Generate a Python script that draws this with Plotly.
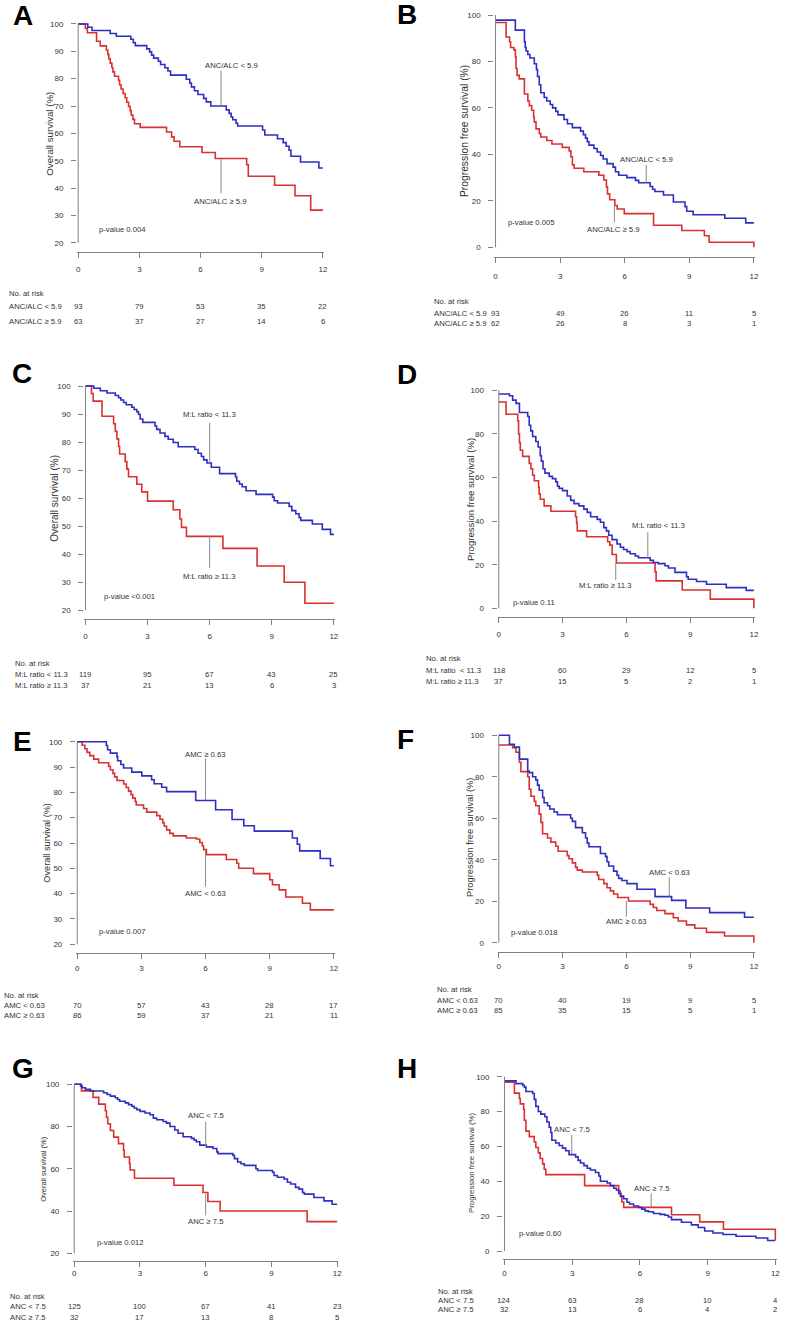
import plotly.graph_objects as go

W, H = 787, 1325
MONTHS = [0, 3, 6, 9, 12]
BLUE = "#2e2ec0"
RED = "#d93030"
AXC = "#808080"
TXT = "#333333"
FONT = "Liberation Sans Narrow, Liberation Sans, Arial, sans-serif"
FS = 7.7

# ---------------- data (months, survival %) ----------------
# A: overall survival by ANC/ALC
a_low_t = [0, 0.47, 0.68, 1.57, 1.87, 2.58, 2.7, 2.8, 3.36, 3.5, 3.6, 3.7, 3.93, 4.04, 4.25, 4.4, 4.53, 5.3, 5.47, 5.55,
           5.7, 5.87, 6.15, 6.28, 6.5, 7.26, 7.4, 7.5, 7.58, 7.74, 7.82, 9.04, 9.15, 9.77, 10.05, 10.2, 10.34, 10.43, 10.9, 11.8, 12]
a_low_s = [100, 98.8, 97.6, 96.5, 95.5, 94.4, 93.2, 92.1, 90.9, 89.8, 88.6, 87.5, 86.4, 85.2, 84.0, 82.8, 81.3, 79.8, 78.4, 77.0,
           75.6, 74.2, 72.8, 71.5, 70.0, 68.6, 67.3, 66.0, 65.0, 63.7, 62.7, 61.2, 59.4, 58.0, 56.6, 55.3, 53.8, 51.6, 49.5, 47.3, 47.3]
a_high_t = [0, 0.35, 0.45, 0.9, 1.08, 1.38, 1.45, 1.5, 1.57, 1.65, 1.7, 1.78, 1.98, 2.03, 2.1, 2.2, 2.3, 2.38, 2.47, 2.55,
            2.6, 2.68, 2.76, 3.04, 4.33, 4.58, 4.7, 4.98, 6.07, 6.72, 8.26, 8.34, 9.63, 10.63, 11.4, 12]
a_high_s = [100, 98.4, 96.8, 93.7, 92.0, 90.5, 88.9, 87.3, 85.7, 84.1, 82.5, 80.9, 79.4, 77.8, 76.2, 74.6, 73.0, 71.4, 69.8, 68.3,
            66.7, 65.1, 63.5, 62.2, 60.5, 58.7, 57.1, 55.1, 53.0, 50.8, 48.5, 44.3, 41.0, 37.2, 31.9, 31.9]

# B: progression free survival by ANC/ALC
b_low_t = [0, 0.92, 1.34, 1.38, 1.42, 1.5, 1.6, 1.8, 1.9, 1.95, 2.03, 2.1, 2.26, 2.38, 2.54, 2.65, 2.8, 2.9, 3.18, 3.34,
           3.57, 3.95, 4.08, 4.18, 4.26, 4.34, 4.57, 4.72, 4.88, 5.0, 5.18, 5.46, 5.57, 5.72, 6.1, 6.5, 6.65, 7.18, 7.3, 7.4,
           7.8, 8.26, 8.8, 8.88, 9.18, 10.65, 11.62, 12]
b_low_s = [97.8, 93.5, 88.5, 86.0, 84.5, 83.0, 81.5, 79.0, 76.5, 73.5, 70.0, 66.5, 64.5, 63.0, 61.5, 60.0, 58.5, 57.0, 55.0, 53.2,
           51.5, 50.0, 48.5, 47.0, 45.5, 44.0, 42.5, 41.0, 39.5, 38.0, 36.0, 34.5, 32.5, 31.0, 30.0, 28.8, 27.8, 26.2, 25.0, 24.0,
           22.5, 19.5, 17.5, 15.5, 14.0, 12.5, 10.5, 10.5]
b_high_t = [0, 0.49, 0.65, 0.7, 0.85, 0.92, 0.95, 1.0, 1.1, 1.34, 1.5, 1.57, 1.68, 1.77, 1.8, 1.88, 2.03, 2.1, 2.38, 2.62,
            3.1, 3.42, 3.5, 3.57, 3.65, 4.1, 4.8, 5.03, 5.15, 5.2, 5.3, 5.54, 5.65, 5.98, 7.34, 8.65, 9.7, 9.92, 12]
b_high_s = [96.8, 90.5, 88.5, 86.0, 85.0, 82.0, 77.0, 74.0, 72.5, 66.0, 63.0, 61.0, 59.0, 56.0, 54.0, 51.0, 49.0, 47.5, 46.0, 44.5,
            43.0, 41.5, 39.0, 35.5, 34.0, 32.5, 31.0, 29.0, 26.0, 23.0, 20.5, 18.0, 16.5, 14.5, 9.5, 7.2, 5.0, 2.2, 0]

# C: overall survival by M:L ratio
c_low_t = [0, 0.4, 0.72, 1.04, 1.44, 1.6, 1.71, 1.84, 1.97, 2.24, 2.35, 2.48, 2.56, 2.64, 2.77, 3.36, 3.44, 3.6, 3.84, 4.0,
           4.24, 4.48, 5.28, 5.44, 5.6, 5.71, 5.87, 6.08, 6.48, 7.25, 7.31, 7.44, 7.57, 7.76, 8.24, 9.04, 9.12, 9.28, 9.84, 9.97,
           10.16, 10.32, 10.4, 10.96, 11.44, 11.84, 12]
c_low_s = [100, 99.2, 98.3, 97.5, 96.6, 95.8, 95.0, 94.1, 93.3, 92.4, 91.6, 90.8, 89.9, 88.2, 87.0, 85.7, 84.5, 83.2, 82.0, 81.0,
           79.8, 78.3, 77.3, 76.0, 74.8, 73.6, 72.5, 71.0, 68.7, 67.5, 66.0, 65.0, 64.0, 62.6, 61.3, 60.3, 59.0, 58.2, 57.0, 55.5,
           54.4, 53.0, 52.0, 50.7, 48.8, 47.0, 47.0]
c_high_t = [0, 0.29, 0.37, 0.8, 1.36, 1.44, 1.52, 1.6, 1.65, 1.92, 2.0, 2.08, 2.48, 2.72, 3.0, 4.24, 4.56, 4.64, 4.88, 6.64,
            8.29, 9.6, 10.6, 12]
c_high_s = [100, 97.3, 94.6, 89.2, 86.5, 83.8, 81.1, 78.4, 75.7, 73.0, 70.3, 67.6, 64.9, 62.2, 58.9, 55.8, 52.5, 49.5, 46.3, 42.0,
            35.7, 29.9, 22.4, 22.4]

# D: progression free survival by M:L ratio
d_low_t = [0, 0.5, 0.65, 0.81, 0.97, 1.36, 1.43, 1.5, 1.59, 1.74, 1.85, 1.95, 2.0, 2.08, 2.17, 2.37, 2.52, 2.68, 2.76, 2.84,
           3.0, 3.22, 3.38, 3.54, 3.77, 4.0, 4.16, 4.32, 4.63, 4.78, 4.94, 5.06, 5.17, 5.33, 5.56, 5.72, 5.87, 6.03, 6.18, 6.42,
           6.57, 7.12, 7.27, 7.5, 7.82, 7.98, 8.29, 8.83, 8.91, 9.3, 9.77, 10.7, 11.64, 12]
d_low_s = [98.3, 97.5, 95.5, 94.0, 89.8, 88.0, 84.0, 81.4, 78.8, 76.5, 74.0, 70.0, 67.5, 64.0, 62.0, 60.5, 59.5, 58.0, 56.0, 55.0,
           54.0, 51.5, 49.5, 48.0, 47.0, 45.5, 44.0, 42.0, 40.8, 39.5, 37.0, 35.5, 33.5, 31.5, 29.5, 28.0, 27.0, 26.0, 25.0, 24.0,
           23.2, 22.0, 21.0, 20.5, 19.5, 18.5, 16.5, 14.5, 13.3, 12.3, 11.0, 9.5, 8.2, 8.2]
d_high_t = [0, 0.34, 0.89, 0.93, 0.97, 1.01, 1.12, 1.43, 1.51, 1.59, 1.67, 1.87, 1.9, 1.95, 2.13, 2.45, 3.61, 3.66, 3.69, 4.13,
            5.12, 5.22, 5.33, 5.53, 7.35, 7.4, 8.63, 9.95, 12]
d_high_s = [94.6, 89.0, 86.0, 80.0, 76.0, 72.5, 69.7, 66.5, 64.0, 61.0, 58.5, 55.5, 52.5, 50.0, 47.0, 44.5, 42.0, 39.0, 35.5, 32.8,
            30.5, 29.0, 24.7, 20.8, 16.8, 12.6, 8.4, 4.2, 0]

# E: overall survival by AMC
e_high_t = [0, 1.36, 1.42, 1.55, 1.86, 1.89, 2.04, 2.17, 2.55, 3.02, 3.48, 3.6, 3.95, 4.18, 5.54, 6.47, 7.24, 7.79, 8.28, 10.06,
            10.29, 10.4, 11.36, 11.84, 12]
e_high_s = [100, 98.5, 96.8, 95.5, 94.0, 92.5, 91.0, 89.6, 88.0, 86.5, 85.0, 83.4, 82.0, 80.3, 76.8, 73.1, 69.3, 66.8, 64.7, 62.0,
            59.5, 56.9, 53.9, 51.0, 51.0]
e_low_t = [0, 0.23, 0.36, 0.46, 0.59, 0.77, 1.0, 1.47, 1.55, 1.67, 1.75, 1.86, 2.17, 2.29, 2.4, 2.52, 2.6, 2.71, 2.76, 3.1,
           3.25, 3.72, 3.87, 4.0, 4.07, 4.18, 4.33, 4.49, 5.1, 5.57, 5.73, 5.85, 5.91, 6.04, 6.97, 7.46, 7.55, 8.24, 9.0, 9.13,
           9.44, 9.75, 10.53, 10.9, 12]
e_low_s = [100, 98.6, 97.2, 95.8, 94.5, 93.1, 91.7, 90.3, 88.9, 87.5, 86.1, 84.7, 83.3, 81.9, 80.5, 79.1, 77.7, 76.4, 75.0, 73.6,
           72.2, 70.8, 69.4, 68.0, 66.6, 65.2, 63.8, 62.8, 62.0, 61.6, 60.2, 58.8, 57.4, 55.4, 53.5, 52.0, 50.0, 47.9, 45.5, 43.5,
           41.5, 38.7, 36.2, 33.6, 33.6]

# F: progression free survival by AMC
f_low_t = [0, 0.5, 0.73, 0.97, 1.36, 1.43, 1.59, 1.74, 1.82, 1.9, 2.06, 2.13, 2.29, 2.4, 2.6, 2.76, 3.38, 3.46, 3.61, 3.93,
           4.08, 4.16, 4.24, 4.78, 5.02, 5.09, 5.17, 5.4, 5.56, 5.64, 5.79, 6.03, 6.5, 7.35, 8.13, 8.8, 9.92, 11.56, 12]
f_low_s = [100, 95.7, 94.3, 88.5, 82.8, 82.0, 80.0, 78.5, 76.0, 73.5, 70.0, 67.5, 66.0, 64.5, 63.0, 61.7, 60.0, 58.5, 55.5, 53.0,
           50.5, 48.0, 46.3, 43.0, 41.5, 39.0, 37.0, 34.5, 32.5, 31.0, 30.0, 28.5, 25.8, 22.2, 20.4, 16.7, 14.5, 12.3, 12.3]
f_high_t = [0, 0.65, 0.81, 0.97, 1.04, 1.36, 1.43, 1.51, 1.67, 1.74, 1.9, 1.98, 2.06, 2.29, 2.45, 2.68, 2.79, 3.22, 3.3, 3.46,
            3.61, 3.69, 3.93, 4.63, 4.7, 4.94, 5.09, 5.25, 5.4, 5.59, 6.1, 7.12, 7.27, 7.43, 7.82, 8.21, 8.44, 8.83, 9.22, 9.77,
            10.62, 12]
f_high_s = [95.3, 94.0, 91.8, 87.0, 82.5, 80.0, 74.0, 70.6, 68.2, 66.0, 62.0, 58.0, 52.5, 50.5, 48.5, 46.5, 44.1, 42.0, 40.5, 38.5,
            36.3, 35.0, 34.1, 32.5, 30.5, 28.5, 26.5, 25.0, 23.5, 21.8, 20.1, 18.5, 17.0, 15.5, 14.0, 12.0, 10.5, 8.6, 7.0, 5.0,
            3.2, 0]

# G: overall survival by ANC
g_low_t = [0, 0.29, 0.36, 0.51, 0.74, 1.34, 1.5, 1.65, 1.87, 1.98, 2.07, 2.33, 2.48, 2.63, 2.73, 2.85, 3.0, 3.23, 3.46, 3.61,
           3.76, 4.06, 4.21, 4.37, 4.59, 4.74, 4.97, 5.35, 5.47, 5.57, 5.73, 6.03, 6.33, 6.51, 6.56, 7.24, 7.31, 7.46, 7.61, 7.76,
           8.29, 8.37, 9.05, 9.12, 9.27, 9.58, 9.73, 9.88, 10.1, 10.26, 10.42, 10.5, 10.94, 11.4, 11.77, 12]
g_low_s = [100, 99.2, 98.4, 97.6, 96.8, 96.0, 95.2, 94.4, 93.6, 92.8, 92.0, 91.2, 90.4, 89.6, 88.8, 88.0, 87.2, 86.4, 85.6, 84.0,
           83.2, 82.4, 81.6, 80.0, 78.4, 76.8, 75.2, 74.4, 73.6, 72.8, 71.2, 70.4, 69.6, 68.0, 67.2, 66.4, 64.8, 63.2, 62.4, 61.6,
           60.0, 59.2, 58.4, 56.8, 56.0, 55.2, 53.6, 52.8, 51.2, 50.4, 48.8, 48.0, 46.4, 44.8, 43.2, 43.2]
g_high_t = [0, 0.33, 0.86, 1.12, 1.42, 1.47, 1.53, 1.65, 1.8, 2.02, 2.25, 2.28, 2.52, 2.55, 2.75, 4.55, 5.88, 6.1, 6.66, 10.63, 12]
g_high_s = [100, 96.9, 93.8, 90.6, 87.5, 84.4, 81.3, 78.1, 75.0, 71.9, 68.8, 65.6, 62.5, 59.4, 55.5, 52.2, 48.8, 44.5, 40.0, 35.0, 35.0]

# H: progression free survival by ANC
h_low_t = [0, 0.51, 0.81, 0.88, 0.95, 1.25, 1.32, 1.39, 1.5, 1.61, 1.79, 1.88, 1.98, 2.05, 2.1, 2.27, 2.42, 2.57, 2.71, 2.86,
           3.15, 3.26, 3.37, 3.52, 3.67, 3.81, 4.03, 4.18, 4.25, 4.55, 4.69, 4.84, 4.96, 5.06, 5.16, 5.28, 5.43, 5.54, 5.72, 5.94,
           6.08, 6.23, 6.38, 6.6, 6.89, 7.11, 7.26, 7.4, 7.84, 8.28, 8.58, 8.87, 9.24, 9.68, 10.26, 11.14, 11.66, 12]
h_low_s = [97.6, 96.0, 95.0, 94.0, 91.5, 90.4, 87.0, 83.0, 80.0, 78.5, 77.0, 74.0, 71.0, 68.0, 63.5, 62.0, 60.5, 59.0, 57.5, 55.3,
           54.0, 52.0, 50.5, 49.0, 47.5, 46.5, 45.0, 43.0, 40.0, 39.0, 37.5, 36.0, 35.0, 33.0, 31.5, 30.0, 28.0, 27.0, 25.8, 25.0,
           24.0, 23.0, 22.5, 21.5, 21.0, 20.5, 19.5, 18.0, 16.5, 15.0, 13.5, 11.5, 10.3, 9.5, 8.5, 7.5, 6.0, 6.0]
h_high_t = [0, 0.44, 0.66, 0.7, 0.85, 0.88, 0.95, 1.1, 1.32, 1.39, 1.5, 1.58, 1.69, 1.76, 1.83, 3.55, 5.06, 5.13, 5.2, 5.28,
            7.4, 8.65, 9.7, 12]
h_high_s = [96.9, 90.6, 87.5, 84.4, 81.3, 75.0, 68.8, 65.6, 62.5, 59.4, 56.3, 53.1, 50.0, 46.9, 43.8, 37.5, 34.4, 31.3, 28.1, 25.0,
            20.8, 16.7, 12.5, 6.2]

# risk tables
a_risk_labels = ["ANC/ALC < 5.9", "ANC/ALC ≥ 5.9"]
a_risk = [[93, 79, 53, 35, 22], [63, 37, 27, 14, 6]]
b_risk_labels = ["ANC/ALC < 5.9", "ANC/ALC ≥ 5.9"]
b_risk = [[93, 49, 26, 11, 5], [62, 26, 8, 3, 1]]
c_risk_labels = ["M:L ratio < 11.3", "M:L ratio ≥ 11.3"]
c_risk = [[119, 95, 67, 43, 25], [37, 21, 13, 6, 3]]
d_risk_labels = ["M:L ratio\u00a0 < 11.3", "M:L ratio ≥ 11.3"]
d_risk = [[118, 60, 29, 12, 5], [37, 15, 5, 2, 1]]
e_risk_labels = ["AMC < 0.63", "AMC ≥ 0.63"]
e_risk = [[70, 57, 43, 28, 17], [86, 59, 37, 21, 11]]
f_risk_labels = ["AMC < 0.63", "AMC ≥ 0.63"]
f_risk = [[70, 40, 19, 9, 5], [85, 35, 15, 5, 1]]
g_risk_labels = ["ANC < 7.5", "ANC ≥ 7.5"]
g_risk = [[125, 100, 67, 41, 23], [32, 17, 13, 8, 5]]
h_risk_labels = ["ANC < 7.5", "ANC ≥ 7.5"]
h_risk = [[124, 63, 28, 10, 4], [32, 13, 6, 4, 2]]

p_values = ["p-value 0.004", "p-value 0.005", "p-value <0.001", "p-value 0.11",
            "p-value 0.007", "p-value 0.018", "p-value 0.012", "p-value 0.60"]
ytitles = ["Overall survival (%)", "Progression free survival (%)"] * 4

# ---------------- layout geometry (pixels) ----------------
P = [
    dict(L="A", x0=77.7, x12=324.0, ytp=24.0, ybp=242.7, yb=20, dy=10, xl=252.3, tl=16.5,
         let=(10, 15.5), yt=(48, 134, 9.7), rl=6, rr=(293, 306, 321),
         blue=(a_low_t, a_low_s), red=(a_high_t, a_high_s), risk=(a_risk_labels, a_risk),
         pv=(0.93, 24.9),
         lab=[("ANC/ALC < 5.9", 7.52, 85.0, 7.0, 82.9, 70.0), ("ANC/ALC ≥ 5.9", 7.0, 35.0, 7.0, 50.8, 38.0)]),
    dict(L="B", x0=497.7, x12=757.7, ytp=15.0, ybp=247.3, yb=0, dy=20, xl=256.7, tl=20,
         let=(397, 15), yt=(467, 131, 10.3), rl=433.3, rr=(301.7, 313.3, 324),
         blue=(b_low_t, b_low_s), red=(b_high_t, b_high_s), risk=(b_risk_labels, b_risk),
         pv=(0.49, 10.6),
         lab=[("ANC/ALC < 5.9", 7.0, 37.9, 7.0, 35.5, 27.8), ("ANC/ALC ≥ 5.9", 5.49, 7.7, 5.52, 18.0, 10.7)]),
    dict(L="C", x0=85.0, x12=335.0, ytp=386.0, ybp=610.0, yb=20, dy=10, xl=619.3, tl=17.4,
         let=(9, 373.5), yt=(54, 498, 10), rl=11.7, rr=(663.3, 674.3, 685.7),
         blue=(c_low_t, c_low_s), red=(c_high_t, c_high_s), risk=(c_risk_labels, c_risk),
         pv=(0.8, 24.8),
         lab=[("M:L ratio < 11.3", 6.0, 89.9, 6.0, 86.9, 72.5), ("M:L ratio ≥ 11.3", 6.0, 31.9, 6.0, 46.3, 35.1)]),
    dict(L="D", x0=501.0, x12=757.7, ytp=390.3, ybp=608.3, yb=0, dy=20, xl=616.7, tl=18.3,
         let=(397, 375), yt=(472, 500, 9.6), rl=426, rr=(658.3, 670, 681),
         blue=(d_low_t, d_low_s), red=(d_high_t, d_high_s), risk=(d_risk_labels, d_risk),
         pv=(0.58, 2.6),
         lab=[("M:L ratio < 11.3", 7.5, 37.8, 7.01, 34.9, 23.2), ("M:L ratio ≥ 11.3", 5.03, 10.4, 5.5, 20.8, 13.0)]),
    dict(L="E", x0=76.7, x12=335.0, ytp=741.7, ybp=944.3, yb=20, dy=10, xl=953.3, tl=15.5,
         let=(10, 741), yt=(46, 843, 9.2), rl=1, rr=(995, 1005, 1015),
         blue=(e_high_t, e_high_s), red=(e_low_t, e_low_s), risk=(e_risk_labels, e_risk),
         pv=(0.93, 25.0),
         lab=[("AMC ≥ 0.63", 6.0, 95.0, 6.0, 93.4, 76.8), ("AMC < 0.63", 6.0, 39.9, 6.0, 57.4, 42.8)]),
    dict(L="F", x0=501.0, x12=757.7, ytp=735.3, ybp=942.7, yb=0, dy=20, xl=951.7, tl=15.5,
         let=(397, 739), yt=(472, 838, 9.3), rl=437, rr=(990, 1000.7, 1010.7),
         blue=(f_low_t, f_low_s), red=(f_high_t, f_high_s), risk=(f_risk_labels, f_risk),
         pv=(0.5, 4.8),
         lab=[("AMC < 0.63", 8.04, 33.9, 8.02, 31.5, 22.2), ("AMC ≥ 0.63", 6.01, 10.0, 6.0, 20.1, 12.5)]),
    dict(L="G", x0=73.7, x12=338.3, ytp=1084.3, ybp=1253.3, yb=20, dy=20, xl=1260.7, tl=13.5,
         let=(9, 1068), yt=(42, 1169, 7.5), rl=7, rr=(1296, 1306.7, 1317.3),
         blue=(g_low_t, g_low_s), red=(g_high_t, g_high_s), risk=(g_risk_labels, g_risk),
         pv=(0.97, 25.0),
         lab=[("ANC < 7.5", 6.03, 85.0, 6.0, 82.3, 70.4), ("ANC ≥ 7.5", 6.0, 35.0, 6.0, 48.1, 37.9)]),
    dict(L="H", x0=506.7, x12=779.3, ytp=1076.7, ybp=1251.0, yb=0, dy=20, xl=1259.3, tl=14,
         let=(397, 1068), yt=(473, 1163, 7.8), rl=438, rr=(1291.7, 1300, 1309),
         blue=(h_low_t, h_low_s), red=(h_high_t, h_high_s), risk=(h_risk_labels, h_risk),
         pv=(0.56, 10.0),
         lab=[("ANC < 7.5", 2.99, 69.8, 2.98, 66.5, 55.4), ("ANC ≥ 7.5", 6.51, 36.0, 6.5, 33.1, 24.9)]),
]

fig = go.Figure()
annotations = []
shapes = []
layout_axes = {}
XPAD = 0.06
YPAD_TOP = 3.0

for i, p in enumerate(P):
    n = i + 1
    xa = "x" if n == 1 else f"x{n}"
    ya = "y" if n == 1 else f"y{n}"
    xkey = "xaxis" if n == 1 else f"xaxis{n}"
    ykey = "yaxis" if n == 1 else f"yaxis{n}"
    sx = (p["x12"] - p["x0"]) / 12.0
    sy = (p["ybp"] - p["ytp"]) / (100.0 - p["yb"])
    y_top = 100.0 + YPAD_TOP
    y_bot = p["yb"] - (p["xl"] - p["ybp"]) / sy
    dom_x = [(p["x0"] - XPAD * sx) / W, (p["x12"] + XPAD * sx) / W]
    dom_y = [1 - p["xl"] / H, 1 - (p["ytp"] - YPAD_TOP * sy) / H]

    for (t, s), col in ((p["red"], RED), (p["blue"], BLUE)):
        fig.add_trace(go.Scatter(x=t, y=s, mode="lines", line=dict(color=col, width=1.6, shape="hv"),
                                 xaxis=xa, yaxis=ya, showlegend=False, hoverinfo="skip"))

    std_x = int(round(max(0, p["tl"] - 13)))
    layout_axes[xkey] = dict(domain=dom_x, range=[-XPAD, 12 + XPAD], anchor=ya,
                             tickvals=MONTHS, ticks="outside", ticklen=5, tickwidth=1, tickcolor=AXC,
                             showline=True, linecolor=AXC, linewidth=1, showgrid=False, zeroline=False,
                             tickfont=dict(family=FONT, size=8, color=TXT), ticklabelstandoff=std_x)
    layout_axes[ykey] = dict(domain=dom_y, range=[y_bot, y_top], anchor=xa,
                             tickvals=list(range(p["yb"], 101, p["dy"])), ticks="outside", ticklen=5,
                             tickwidth=1, tickcolor=AXC, showline=False, showgrid=False, zeroline=False,
                             tickfont=dict(family=FONT, size=8, color=TXT), ticklabelstandoff=6)
    shapes.append(dict(type="line", xref=xa, yref=ya, x0=0, x1=0, y0=p["yb"], y1=100,
                       line=dict(color=AXC, width=1)))
    annotations.append(dict(text=f"<b>{p['L']}</b>", xref="paper", yref="paper", x=p["let"][0] / W,
                            y=1 - p["let"][1] / H, xanchor="left", yanchor="middle", showarrow=False,
                            font=dict(family="Liberation Sans, Arial, sans-serif", size=28, color="black")))
    annotations.append(dict(text=ytitles[i], xref="paper", yref="paper", x=p["yt"][0] / W,
                            y=1 - p["yt"][1] / H, textangle=-90, showarrow=False, xanchor="center",
                            yanchor="middle", font=dict(family=FONT, size=p["yt"][2], color=TXT)))
    annotations.append(dict(text=p_values[i], xref=xa, yref=ya, x=p["pv"][0], y=p["pv"][1],
                            xanchor="left", yanchor="middle", showarrow=False,
                            font=dict(family=FONT, size=FS, color=TXT)))
    for txt, lx, ly, px_, py0, py1 in p["lab"]:
        annotations.append(dict(text=txt, xref=xa, yref=ya, x=lx, y=ly, xanchor="center", yanchor="middle",
                                showarrow=False, font=dict(family=FONT, size=FS, color=TXT)))
        shapes.append(dict(type="line", xref=xa, yref=ya, x0=px_, x1=px_, y0=py0, y1=py1,
                           line=dict(color="#8a8a8a", width=1)))
    labels, rows = p["risk"]
    annotations.append(dict(text="No. at risk", xref="paper", yref="paper", x=p["rl"] / W,
                            y=1 - p["rr"][0] / H, xanchor="left", yanchor="middle", showarrow=False,
                            font=dict(family=FONT, size=FS, color=TXT)))
    for lab, row, ry in zip(labels, rows, p["rr"][1:]):
        annotations.append(dict(text=lab, xref="paper", yref="paper", x=p["rl"] / W, y=1 - ry / H,
                                xanchor="left", yanchor="middle", showarrow=False,
                                font=dict(family=FONT, size=FS, color=TXT)))
        for m, v in zip(MONTHS, row):
            annotations.append(dict(text=str(v), xref=xa, yref="paper", x=m, y=1 - ry / H,
                                    xanchor="center", yanchor="middle", showarrow=False,
                                    font=dict(family=FONT, size=FS, color=TXT)))

fig.update_layout(width=W, height=H, margin=dict(l=0, r=0, t=0, b=0),
                  paper_bgcolor="white", plot_bgcolor="white", hovermode=False,
                  annotations=annotations, shapes=shapes, **layout_axes)
fig.write_html("out.html", config={"displayModeBar": False, "staticPlot": True},
               post_script="document.body.style.margin='0';document.body.style.padding='0';"
                           "document.documentElement.style.overflow='hidden';")
